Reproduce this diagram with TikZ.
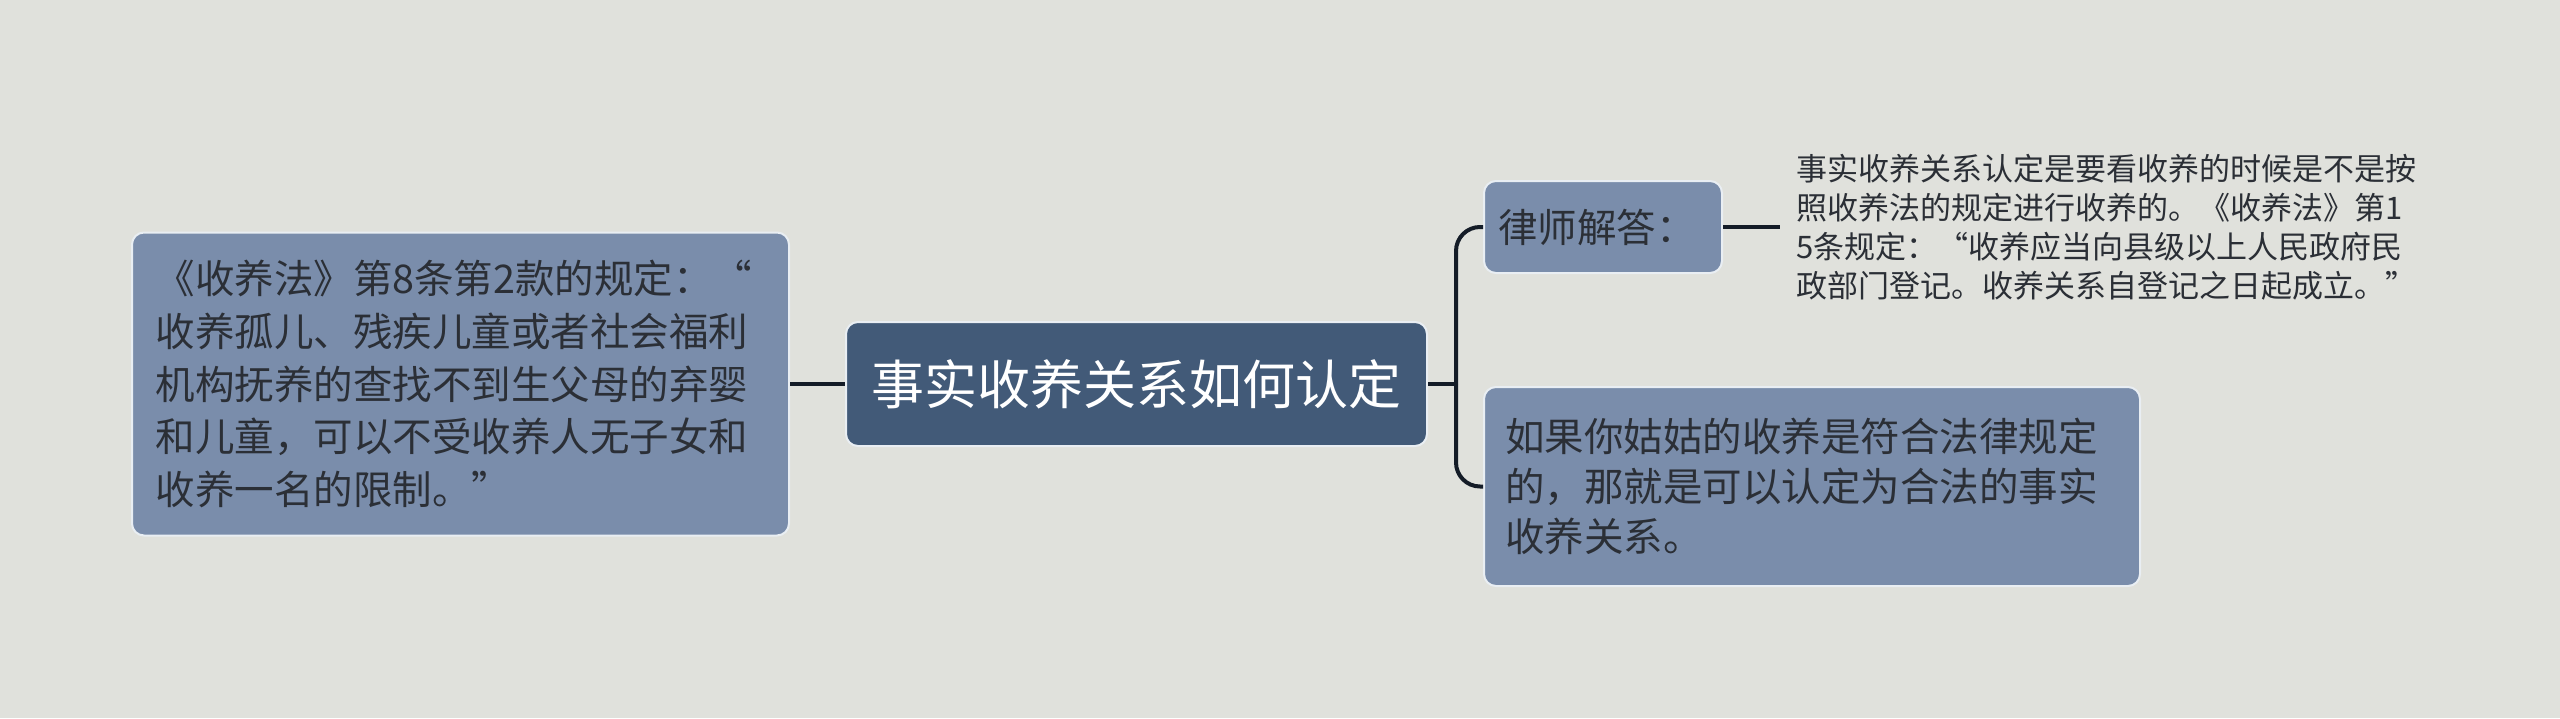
\documentclass[tikz,border=0pt]{standalone}
\usepackage{fontspec}
\newfontfamily\cjk{Noto Sans CJK SC}
\usepackage{tikz}
\usetikzlibrary{positioning,calc}
\definecolor{paper}{HTML}{E0E1DC}
\definecolor{rootfill}{HTML}{425A78}
\definecolor{topicfill}{HTML}{7A8DAB}
\definecolor{edgeline}{HTML}{E9EEF3}
\definecolor{linkcolor}{HTML}{141C27}
\definecolor{inktext}{HTML}{2B2F36}
\tikzset{
    root box/.style={draw=edgeline,line width=1pt,fill=rootfill,rounded corners=6pt,text=white,font=\cjk\fontsize{26.5pt}{32pt}\selectfont,minimum width=290.5pt,minimum height=62pt,inner sep=0pt},
    topic box/.style={draw=edgeline,line width=1pt,fill=topicfill,rounded corners=6pt,text=inktext,align=left,inner sep=0pt},
    big text/.style={font=\cjk\fontsize{19.75pt}{26.4pt}\selectfont},
    mid text/.style={font=\cjk\fontsize{19.75pt}{25pt}\selectfont},
    note text/.style={font=\cjk\fontsize{15.5pt}{19.5pt}\selectfont,text=inktext,align=left,inner sep=8pt},
    link/.style={draw=linkcolor,line width=2pt},
    fork/.style={link,rounded corners=12pt},
}
\begin{document}
\begin{tikzpicture}[x=0.5pt,y=-0.5pt]
    \useasboundingbox[fill=paper] (0,0) rectangle (2560,718);
    \node[root box] (root) at (1136.5,384) {事实收养关系如何认定};
    \node[topic box,big text,minimum width=328.5pt,minimum height=151.5pt,text width=305pt] (law) at (460.5,384)
        {《收养法》第8条第2款的规定：“\\收养孤儿、残疾儿童或者社会福利\\机构抚养的查找不到生父母的弃婴\\和儿童，可以不受收养人无子女和\\收养一名的限制。”};
    \node[topic box,big text,minimum width=119pt,minimum height=46pt,align=center] (lawyer) at (1603,227) {律师解答：\hspace*{6pt}};
    \node[topic box,mid text,minimum width=328pt,minimum height=99.5pt,text width=307pt] (answer) at (1812,486.5)
        {如果你姑姑的收养是符合法律规定\\的，那就是可以认定为合法的事实\\收养关系。};
    \node[note text,anchor=west] (detail) at (1780,227)
        {事实收养关系认定是要看收养的时候是不是按\\照收养法的规定进行收养的。《收养法》第1\\5条规定：“收养应当向县级以上人民政府民\\政部门登记。收养关系自登记之日起成立。”};
    \coordinate (split) at (1456,384);
    % branches
    \draw[link] (law.east) -- (root.west);
    \draw[link] (root.east) -- (split);
    \draw[fork] (split) |- (lawyer.west);
    \draw[fork] (split) |- (answer.west);
    \draw[link] (lawyer.east) -- (lawyer.east -| detail.west);
\end{tikzpicture}
\end{document}
